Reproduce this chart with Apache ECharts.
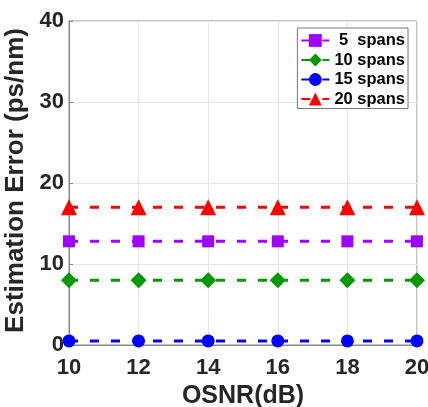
<!DOCTYPE html>
<html><head><meta charset="utf-8">
<script src="https://cdn.jsdelivr.net/npm/echarts@6/dist/echarts.min.js"></script>
<style>html,body{margin:0;padding:0;background:#fff}#c{width:428px;height:407px}</style>
</head><body><div id="c"></div>
<script>
const osnr = [10, 12, 14, 16, 18, 20];
const spans5 = [12.8, 12.8, 12.8, 12.8, 12.8, 12.8];
const spans10 = [8, 8, 8, 8, 8, 8];
const spans15 = [0.5, 0.5, 0.5, 0.5, 0.5, 0.5];
const spans20 = [17, 17, 17, 17, 17, 17];
const seriesNames = [' 5  spans', '10 spans', '15 spans', '20 spans'];

const font = 'Liberation Sans, Arial, sans-serif';
function mk(name, vals, color, symbol, size) {
  return {
    name: name, type: 'line', data: osnr.map((x, i) => [x, vals[i]]),
    symbol: symbol, symbolSize: size,
    itemStyle: {color: color},
    lineStyle: {color: color, width: 3, type: [9, 12]},
    clip: false
  };
}
const chart = echarts.init(document.getElementById('c'));
chart.setOption({
  animation: false,
  grid: {left: 69, right: 11, top: 21, bottom: 62, show: true, borderColor: '#888', borderWidth: 1,
         outerBoundsMode: 'none', containLabel: false},
  legend: {
    right: 20, top: 28, orient: 'vertical', itemGap: 2.5, itemWidth: 28, itemHeight: 16,
    backgroundColor: '#fff', borderColor: '#777', borderWidth: 1, padding: [4, 3, 1, 3],
    textStyle: {fontFamily: font, fontWeight: 'bold', fontSize: 16.5, color: '#000'},
    data: seriesNames
  },
  xAxis: {
    type: 'value', min: 10, max: 20, interval: 2,
    name: 'OSNR(dB)', nameLocation: 'middle', nameGap: 38,
    nameTextStyle: {fontFamily: font, fontWeight: 'bold', fontSize: 25, color: '#262626'},
    axisLine: {lineStyle: {color: '#888'}},
    axisTick: {inside: true, length: 4, lineStyle: {color: '#888'}},
    axisLabel: {fontFamily: font, fontWeight: 'bold', fontSize: 22, color: '#262626', margin: 12},
    splitLine: {show: true, lineStyle: {color: '#e6e6e6'}}
  },
  yAxis: {
    type: 'value', min: 0, max: 40, interval: 10,
    name: 'Estimation Error (ps/nm)', nameLocation: 'middle', nameGap: 27,
    nameTextStyle: {fontFamily: font, fontWeight: 'bold', fontSize: 26, color: '#262626', padding: [0, 0, 0, 5]},
    axisLine: {show: true, lineStyle: {color: '#888'}},
    axisTick: {show: true, inside: true, length: 4, lineStyle: {color: '#888'}},
    axisLabel: {fontFamily: font, fontWeight: 'bold', fontSize: 22, color: '#262626', margin: 5},
    splitLine: {show: true, lineStyle: {color: '#e6e6e6'}}
  },
  series: [
    mk(seriesNames[0], spans5, '#9f00ff', 'rect', 12),
    mk(seriesNames[1], spans10, '#009900', 'diamond', 16),
    mk(seriesNames[2], spans15, '#0000ff', 'circle', 13),
    mk(seriesNames[3], spans20, '#ff0000', 'triangle', 16)
  ]
});
</script></body></html>
